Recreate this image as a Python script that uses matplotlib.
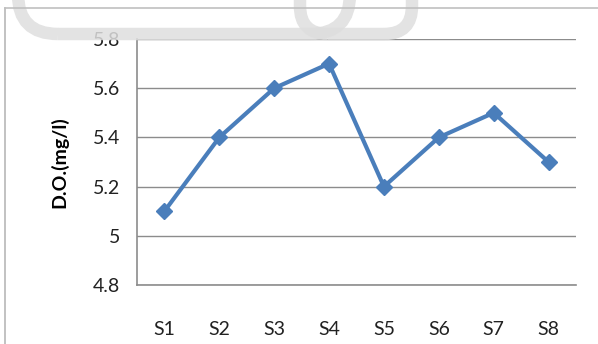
import matplotlib.pyplot as plt
from matplotlib.patches import FancyBboxPatch
from matplotlib.transforms import IdentityTransform

stations = ['S1', 'S2', 'S3', 'S4', 'S5', 'S6', 'S7', 'S8']
do_values = [5.1, 5.4, 5.6, 5.7, 5.2, 5.4, 5.5, 5.3]
y_ticks = [4.8, 5.0, 5.2, 5.4, 5.6, 5.8]
y_tick_labels = ['4.8', '5', '5.2', '5.4', '5.6', '5.8']

plt.rcParams['font.family'] = ['Lato', 'DejaVu Sans']

W, H = 598, 344
fig = plt.figure(figsize=(W / 100, H / 100), dpi=100)

# faint grey rounded outlines bleeding in along the top edge (pixel coords)
for x0, x1, r in [(18, 350, 40), (300, 412, 28)]:
    fig.add_artist(FancyBboxPatch((x0, H - 34), x1 - x0, 80,
                                  boxstyle='round,pad=0,rounding_size=%d' % r,
                                  fc='none', ec='#dedede', lw=9, alpha=0.85,
                                  transform=IdentityTransform()))

# chart border (left and top edges)
fig.add_artist(plt.Line2D([5 / W, 5 / W], [0, 1 - 8 / H], color='#b8b8b8', lw=1.2))
fig.add_artist(plt.Line2D([5 / W, 1], [1 - 8 / H, 1 - 8 / H], color='#c0c0c0', lw=1.2))

ax = fig.add_axes([137 / W, 1 - 285 / H, 439 / W, 246 / H])
ax.patch.set_alpha(0)
x = range(len(stations))
ax.plot(x, do_values, color='#4a7ebb', lw=3, marker='D', markersize=8,
        markeredgecolor='#4a7ebb')

ax.set_xlim(-0.5, len(stations) - 0.5)
ax.set_ylim(4.8, 5.8)
ax.set_yticks(y_ticks)
ax.set_yticklabels(y_tick_labels)
ax.set_xticks(list(x))
ax.set_xticklabels(stations)
ax.tick_params(axis='y', length=0, pad=12, labelsize=14, colors='#222222')
ax.tick_params(axis='x', length=0, pad=26, labelsize=14, colors='#222222')

ax.grid(axis='y', color='#8c8c8c', lw=1)
ax.set_axisbelow(True)
for side in ['top', 'right']:
    ax.spines[side].set_visible(False)
for side in ['left', 'bottom']:
    ax.spines[side].set_color('#8c8c8c')
    ax.spines[side].set_linewidth(1.2)

ax.set_ylabel('D.O.(mg/l)', fontsize=14, fontweight='bold', labelpad=18)

fig.savefig('out.png', dpi=100)
